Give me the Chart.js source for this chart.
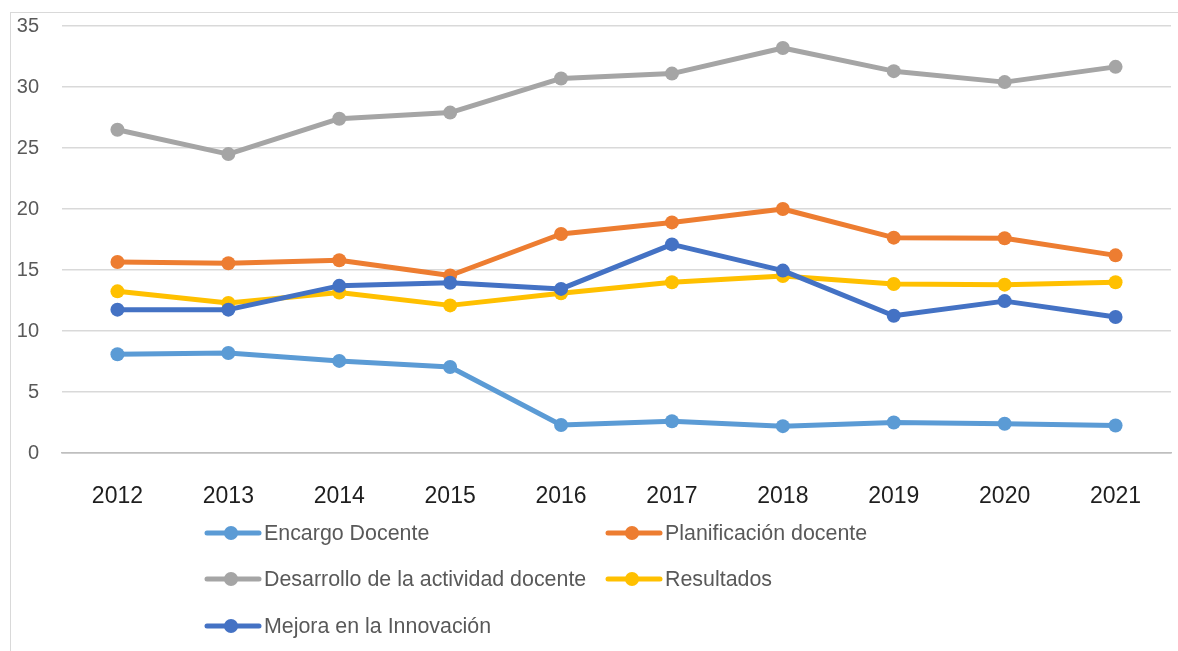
<!DOCTYPE html>
<html>
<head>
<meta charset="utf-8">
<script src="https://cdn.jsdelivr.net/npm/chart.js@4"></script>
<style>
    html, body { margin: 0; padding: 0; background: #fff; overflow: hidden; }
    #wrap { position: relative; width: 1178px; height: 651px; overflow: hidden; }
    #lines_chart { display: block; }
    .edge { position: absolute; background: #d9d9d9; pointer-events: none; }
    #edge_top { left: 10px; top: 12px; width: 1168px; height: 1.3px; }
    #edge_left { left: 10px; top: 12px; width: 1.3px; height: 639px; }
</style>
</head>
<body>
<div id="wrap">
    <canvas id="lines_chart" width="1178" height="651"></canvas>
    <div class="edge" id="edge_top"></div>
    <div class="edge" id="edge_left"></div>
</div>
<script>
const years = ["2012", "2013", "2014", "2015", "2016", "2017", "2018", "2019", "2020", "2021"];
const series_names = ["Encargo Docente", "Planificación docente", "Desarrollo de la actividad docente", "Resultados", "Mejora en la Innovación"];
const encargo = [8.1, 8.2, 7.55, 7.05, 2.3, 2.6, 2.2, 2.5, 2.4, 2.25];
const planificacion = [15.65, 15.55, 15.8, 14.55, 17.95, 18.9, 20.0, 17.65, 17.6, 16.2];
const desarrollo = [26.5, 24.5, 27.4, 27.9, 30.7, 31.1, 33.2, 31.3, 30.4, 31.65];
const resultados = [13.25, 12.3, 13.15, 12.1, 13.1, 14.0, 14.5, 13.85, 13.8, 14.0];
const mejora = [11.75, 11.75, 13.7, 13.95, 13.45, 17.1, 14.95, 11.25, 12.45, 11.15];
const y_ticks = [0, 5, 10, 15, 20, 25, 30, 35];

const colors = ["#5b9bd5", "#ed7d31", "#a5a5a5", "#ffc000", "#4472c4"];
const all_values = [encargo, planificacion, desarrollo, resultados, mejora];

const chart_element = document.getElementById("lines_chart");

// Excel-like legend in two columns under the plot
const legend_plugin = {
    id: "two_column_legend",
    afterDraw(chart) {
        const ctx = chart.ctx;
        const columns = [205, 606];
        const rows = [533, 579, 626];
        ctx.save();
        chart.data.datasets.forEach((ds, i) => {
            const x = columns[i % 2];
            const y = rows[Math.floor(i / 2)];
            ctx.strokeStyle = ds.borderColor;
            ctx.lineWidth = 5;
            ctx.lineCap = "round";
            ctx.beginPath();
            ctx.moveTo(x + 2, y);
            ctx.lineTo(x + 54, y);
            ctx.stroke();
            ctx.fillStyle = ds.borderColor;
            ctx.beginPath();
            ctx.arc(x + 26, y, 7, 0, Math.PI * 2);
            ctx.fill();
            ctx.fillStyle = "#595959";
            ctx.font = "21.4px 'Liberation Sans', Arial, sans-serif";
            ctx.textBaseline = "middle";
            ctx.textAlign = "left";
            ctx.fillText(ds.label, x + 59, y + 1);
        });
        ctx.restore();
    }
};

let chart = new Chart(chart_element, {
    type: "line",
    data: {
        labels: years,
        datasets: series_names.map((name, i) => ({
            label: name,
            data: all_values[i],
            borderColor: colors[i],
            backgroundColor: colors[i],
            borderWidth: 5,
            borderCapStyle: "round",
            borderJoinStyle: "round",
            pointRadius: 7,
            pointHoverRadius: 7,
            pointBorderWidth: 0,
            order: series_names.length - i,
            tension: 0
        }))
    },
    options: {
        responsive: false,
        animation: false,
        devicePixelRatio: 1,
        layout: {
            padding: { left: 0, right: 4, top: 26, bottom: 138 }
        },
        plugins: {
            legend: { display: false },
            tooltip: { enabled: false }
        },
        scales: {
            x: {
                offset: true,
                grid: { display: false },
                border: { display: true, color: "#bfbfbf", width: 1.5 },
                ticks: {
                    padding: 22,
                    color: "#1e1e1e",
                    font: { family: "'Liberation Sans', Arial, sans-serif", size: 23 },
                    maxRotation: 0
                },
                afterFit: (scale) => {
                    scale.height = 60;
                    scale.paddingLeft = 0;
                    scale.paddingRight = 0;
                }
            },
            y: {
                min: 0,
                max: 35,
                afterBuildTicks: (scale) => { scale.ticks = y_ticks.map(v => ({ value: v })); },
                grid: {
                    drawTicks: false,
                    color: (c) => c.tick && c.tick.value === 0 ? "#bfbfbf" : "#d9d9d9",
                    lineWidth: 1.5
                },
                border: { display: false },
                ticks: {
                    padding: 23,
                    color: "#595959",
                    font: { family: "'Liberation Sans', Arial, sans-serif", size: 20 }
                },
                afterFit: (scale) => {
                    scale.width = 62;
                    scale.paddingTop = 0;
                    scale.paddingBottom = 0;
                }
            }
        }
    },
    plugins: [legend_plugin]
});
</script>
</body>
</html>
